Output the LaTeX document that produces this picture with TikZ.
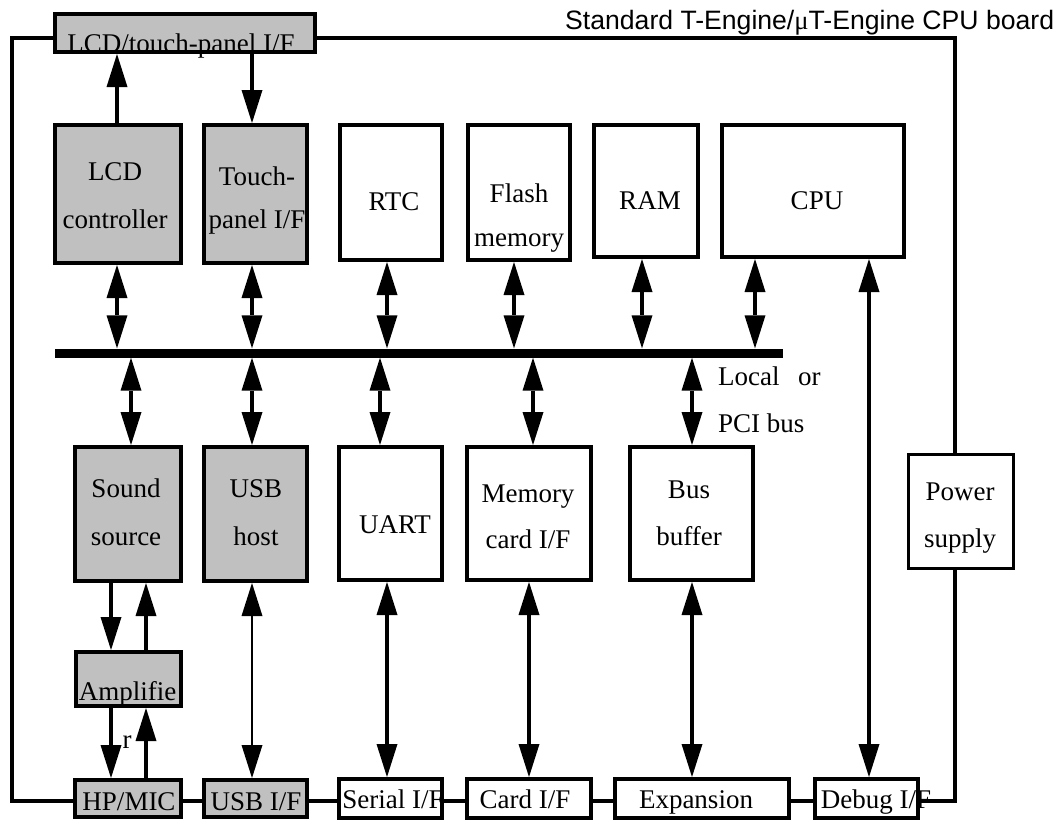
\documentclass[tikz,border=0pt]{standalone}
\usepackage{fontspec}
\setmainfont{Liberation Serif}
\newfontfamily\arialf{Liberation Sans}
\usetikzlibrary{arrows.meta}
\definecolor{graybox}{HTML}{C0C0C0}
\begin{document}
\begin{tikzpicture}[x=1pt,y=-1pt,
  box/.style={draw=black, line width=4pt, fill=white, inner sep=0pt},
  gbox/.style={box, fill=graybox},
  txt/.style={anchor=base, inner sep=0pt, font=\fontsize{27}{32}\selectfont},
  frame/.style={line width=3.5pt},
  conn/.style={line width=4pt},
  thin/.style={line width=2pt},
  >={Triangle[length=33pt,width=21pt,line width=0pt]}]
\useasboundingbox (0,0) rectangle (1061,823);
% frame corners
\coordinate (tl) at (12,38);
\coordinate (tr) at (955,38);
\coordinate (bl) at (12,801);
\coordinate (br) at (955,801);
% boxes
\node[box, minimum width=105pt, minimum height=114pt, line width=3pt] (power) at (960.5,511) {};
\draw[frame] (tr |- power.north) -- (tr) -- (tl) -- (bl) -- (br) -- (br |- power.south);
\node[gbox, minimum width=260pt, minimum height=38pt] (lcdif) at (185,33) {};
\node[gbox, minimum width=126pt, minimum height=138pt] (lcdc) at (118,194) {};
\node[gbox, minimum width=103pt, minimum height=138pt] (touch) at (255.5,194) {};
\node[box, minimum width=102pt, minimum height=135pt] (rtc) at (391,192.5) {};
\node[box, minimum width=102pt, minimum height=135pt] (flash) at (519,192.5) {};
\node[box, minimum width=104pt, minimum height=132pt] (ram) at (646,191) {};
\node[box, minimum width=182pt, minimum height=132pt] (cpu) at (813,191) {};
\node[gbox, minimum width=106pt, minimum height=134pt] (sound) at (128,514) {};
\node[gbox, minimum width=103pt, minimum height=134pt] (usbh) at (255.5,514) {};
\node[box, minimum width=103pt, minimum height=133pt] (uart) at (390.5,513.5) {};
\node[box, minimum width=124pt, minimum height=133pt] (mcard) at (529,513.5) {};
\node[box, minimum width=123pt, minimum height=133pt] (busbuf) at (691.5,513.5) {};
\node[gbox, minimum width=105pt, minimum height=54pt] (amp) at (128.5,679) {};
\node[gbox, minimum width=106pt, minimum height=37pt] (hpmic) at (128,798.5) {};
\node[gbox, minimum width=103pt, minimum height=37pt] (usbif) at (255.5,798.5) {};
\node[box, minimum width=103pt, minimum height=39pt] (serial) at (390.5,798.5) {};
\node[box, minimum width=124pt, minimum height=39pt] (cardif) at (529,798.5) {};
\node[box, minimum width=174pt, minimum height=39pt] (expan) at (702,798.5) {};
\node[box, minimum width=103pt, minimum height=39pt] (debug) at (866.5,798.5) {};
% bus
\node[fill=black, inner sep=0pt, minimum width=728pt, minimum height=9pt] (bus) at (419,353) {};
% connectors: LCD/touch I/F
\draw[conn,->] ([xshift=-1pt]lcdc.north) -- ([xshift=-1pt]lcdc.north |- lcdif.south);
\draw[conn,->] ([xshift=-3.5pt]touch.north |- lcdif.south) -- ([xshift=-3.5pt]touch.north);
% top row to bus
\draw[conn,<->] ([xshift=-1pt]lcdc.south) -- ([xshift=-1pt]lcdc.south |- bus.north);
\draw[conn,<->] ([xshift=-3.5pt]touch.south) -- ([xshift=-3.5pt]touch.south |- bus.north);
\draw[conn,<->] ([xshift=-4pt]rtc.south) -- ([xshift=-4pt]rtc.south |- bus.north);
\draw[conn,<->] ([xshift=-5pt]flash.south) -- ([xshift=-5pt]flash.south |- bus.north);
\draw[conn,<->] ([xshift=-4pt]ram.south) -- ([xshift=-4pt]ram.south |- bus.north);
\draw[conn,<->] ([xshift=-58pt]cpu.south) -- ([xshift=-58pt]cpu.south |- bus.north);
% bus to lower row
\draw[conn,<->] ([xshift=3pt]sound.north |- bus.south) -- ([xshift=3pt]sound.north);
\draw[conn,<->] ([xshift=-3.5pt]usbh.north |- bus.south) -- ([xshift=-3.5pt]usbh.north);
\draw[conn,<->] ([xshift=-10.5pt]uart.north |- bus.south) -- ([xshift=-10.5pt]uart.north);
\draw[conn,<->] ([xshift=4pt]mcard.north |- bus.south) -- ([xshift=4pt]mcard.north);
\draw[conn,<->] ([xshift=0.5pt]busbuf.north |- bus.south) -- ([xshift=0.5pt]busbuf.north);
% sound / amplifier / HP-MIC
\draw[conn,->] ([xshift=-17pt]sound.south) -- ([xshift=-17pt]sound.south |- amp.north);
\draw[conn,->] ([xshift=18pt]sound.south |- amp.north) -- ([xshift=18pt]sound.south);
\draw[conn,->] ([xshift=-17.5pt]amp.south) -- ([xshift=-17.5pt]amp.south |- hpmic.north);
\draw[conn,->] ([xshift=17.5pt]amp.south |- hpmic.north) -- ([xshift=17.5pt]amp.south);
% lower row to interfaces
\draw[thin,<->] ([xshift=-3.5pt]usbh.south) -- ([xshift=-3.5pt]usbh.south |- usbif.north);
\draw[conn,<->] ([xshift=-3.5pt]uart.south) -- ([xshift=-3.5pt]uart.south |- serial.north);
\draw[conn,<->] (mcard.south) -- (mcard.south |- cardif.north);
\draw[conn,<->] ([xshift=0.5pt]busbuf.south) -- ([xshift=0.5pt]busbuf.south |- expan.north);
\draw[conn,<->] ([xshift=56pt]cpu.south) -- ([xshift=56pt]cpu.south |- debug.north);
% texts
\node[txt] (t1) at (181,52) {LCD/touch-panel I/F};
\node[txt] (t2) at (115,180) {LCD};
\node[txt] (t3) at (115,228) {controller};
\node[txt] (t4) at (257,185) {Touch-};
\node[txt] (t5) at (257,228) {panel I/F};
\node[txt] (t6) at (394,210) {RTC};
\node[txt] (t7) at (519,202) {Flash};
\node[txt] (t8) at (519,246) {memory};
\node[txt] (t9) at (650,209) {RAM};
\node[txt] (t10) at (817,209) {CPU};
\node[txt] (t11) at (126,497) {Sound};
\node[txt] (t12) at (126,545) {source};
\node[txt] (t13) at (256,497) {USB};
\node[txt] (t14) at (256,545) {host};
\node[txt] (t15) at (395,533) {UART};
\node[txt] (t16) at (528,502) {Memory};
\node[txt] (t17) at (528,548) {card I/F};
\node[txt] (t18) at (689,498) {Bus};
\node[txt] (t19) at (689,545) {buffer};
\node[txt] (t20) at (960,500) {Power};
\node[txt] (t21) at (960,547) {supply};
\node[txt] (t22) at (127.5,700) {Amplifie};
\node[txt] (t23) at (127,748) {r};
\node[txt] (t24) at (129,810) {HP/MIC};
\node[txt] (t25) at (256,810) {USB I/F};
\node[txt] (t26) at (393,808) {Serial I/F};
\node[txt] (t27) at (525,808) {Card I/F};
\node[txt] (t28) at (696,808) {Expansion};
\node[txt] (t29) at (876,808) {Debug I/F};
\node[txt, anchor=base west] (t30) at (718,385) {Local\hspace{18.5pt}or};
\node[txt, anchor=base west] (t31) at (718,432) {PCI bus};
\node[anchor=base west, inner sep=0pt, font=\arialf\fontsize{26.6}{30}\selectfont] (title) at (565,29) {Standard T-Engine/{\rmfamily μ}T-Engine CPU board};
\end{tikzpicture}
\end{document}
